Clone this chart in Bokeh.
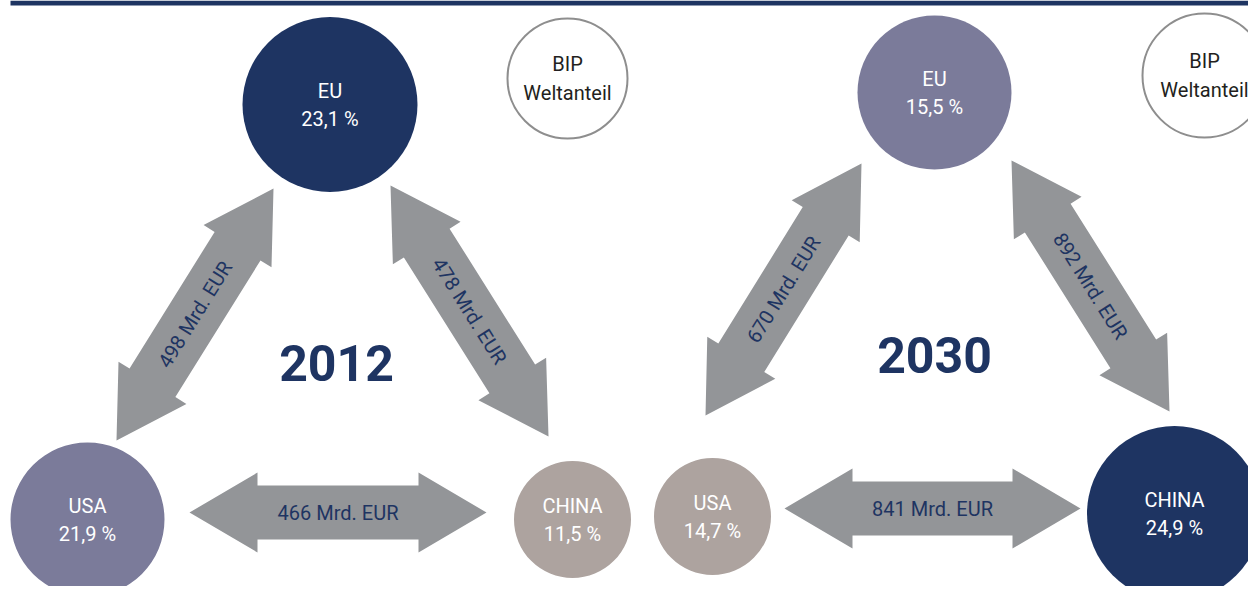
import math
from bokeh.plotting import figure
from bokeh.models import Range1d
from bokeh.embed import file_html
from bokeh.resources import INLINE
from bokeh.core.properties import value

# ---------------- data ----------------
years = ["2012", "2030"]
regions = ["EU", "USA", "CHINA"]
gdp_share_2012 = [23.1, 21.9, 11.5]
gdp_share_2030 = [15.5, 14.7, 24.9]
trade_pairs = [("EU", "USA"), ("EU", "CHINA"), ("USA", "CHINA")]
trade_2012 = [498, 478, 466]
trade_2030 = [670, 892, 841]
trade_unit = "Mrd. EUR"
legend_lines = ["BIP", "Weltanteil"]

shares = {"2012": gdp_share_2012, "2030": gdp_share_2030}
trades = {"2012": trade_2012, "2030": trade_2030}

# ---------------- layout / style ----------------
W, H = 1248, 586
NAVY = "#1e3462"
MID = "#7b7b9a"
LIGHT = "#ada39f"
ARROW = "#939598"
FONT = value("Roboto")
rank_colors = [NAVY, MID, LIGHT]
rank_radius = [87.5, 77, 58.5]


def Y(ys):
    # reference pixel row -> data y (y up)
    return H - ys


layout = {
    "2012": {
        "pos": {"EU": (329.5, 104), "USA": (87, 519), "CHINA": (572, 519)},
        "bip": (567, 78, 60),
        "year": (336, 362),
        "tips": {
            ("EU", "USA"): ((273, 188), (116, 440)),
            ("EU", "CHINA"): ((390, 185), (548, 436)),
            ("USA", "CHINA"): ((189, 512), (486, 512)),
        },
    },
    "2030": {
        "pos": {"EU": (934, 92), "USA": (712, 516), "CHINA": (1174, 513)},
        "bip": (1204, 75, 62),
        "year": (934, 354),
        "tips": {
            ("EU", "USA"): ((861, 163), (705, 415)),
            ("EU", "CHINA"): ((1011, 160), (1169, 411)),
            ("USA", "CHINA"): ((784, 508), (1080, 508)),
        },
    },
}


def fmt_share(v):
    return f"{v:.1f}".replace(".", ",") + " %"


def arrow_poly(a, b, h=68, hw=40, sw=27):
    ax, ay = a
    bx, by = b
    dx, dy = bx - ax, by - ay
    L = math.hypot(dx, dy)
    ux, uy = dx / L, dy / L
    nx, ny = -uy, ux
    pts = [
        (ax, ay),
        (ax + ux * h + nx * hw, ay + uy * h + ny * hw),
        (ax + ux * h + nx * sw, ay + uy * h + ny * sw),
        (bx - ux * h + nx * sw, by - uy * h + ny * sw),
        (bx - ux * h + nx * hw, by - uy * h + ny * hw),
        (bx, by),
        (bx - ux * h - nx * hw, by - uy * h - ny * hw),
        (bx - ux * h - nx * sw, by - uy * h - ny * sw),
        (ax + ux * h - nx * sw, ay + uy * h - ny * sw),
        (ax + ux * h - nx * hw, ay + uy * h - ny * hw),
    ]
    return [q[0] for q in pts], [q[1] for q in pts]


p = figure(width=W, height=H, x_range=Range1d(0, W), y_range=Range1d(0, H),
           output_backend="svg", toolbar_location=None,
           x_axis_type=None, y_axis_type=None, min_border=0)
p.outline_line_color = None
p.background_fill_color = "white"
p.border_fill_color = "white"

# top rule
p.quad(left=[10], right=[W], top=[Y(0)], bottom=[Y(5)], fill_color=NAVY, line_color=None)

# arrows
axs, ays = [], []
lab_x, lab_y, lab_t, lab_a = [], [], [], []
for yr in years:
    for pair, val in zip(trade_pairs, trades[yr]):
        (sa, sb) = layout[yr]["tips"][pair]
        a = (sa[0], Y(sa[1]))
        b = (sb[0], Y(sb[1]))
        xs, ys = arrow_poly(a, b)
        axs.append(xs)
        ays.append(ys)
        dx, dy = b[0] - a[0], b[1] - a[1]
        if dx < 0 or (dx == 0 and dy < 0):
            dx, dy = -dx, -dy
        ang = math.atan2(dy, dx)
        lab_x.append((a[0] + b[0]) / 2)
        lab_y.append((a[1] + b[1]) / 2)
        lab_t.append(f"{val} {trade_unit}")
        lab_a.append(ang)

p.patches(xs=axs, ys=ays, fill_color=ARROW, line_color=None)
p.text(x=lab_x, y=lab_y, text=lab_t, angle=lab_a, text_color=NAVY,
       text_font=FONT, text_font_size="20px", text_align="center",
       text_baseline="middle")

# region circles
cx, cy, cr, cc = [], [], [], []
t1x, t1y, t1t, t2y, t2t = [], [], [], [], []
for yr in years:
    vals = shares[yr]
    order = sorted(range(len(vals)), key=lambda i: -vals[i])
    for rank, i in enumerate(order):
        sx, sy = layout[yr]["pos"][regions[i]]
        cx.append(sx)
        cy.append(Y(sy))
        cr.append(rank_radius[rank])
        cc.append(rank_colors[rank])
        t1x.append(sx)
        t1y.append(Y(sy - 14))
        t1t.append(regions[i])
        t2y.append(Y(sy + 14))
        t2t.append(fmt_share(vals[i]))

p.circle(x=cx, y=cy, radius=cr, fill_color=cc, line_color=None)
p.text(x=t1x, y=t1y, text=t1t, text_color="white", text_font=FONT,
       text_font_size="20px", text_align="center", text_baseline="middle")
p.text(x=t1x, y=t2y, text=t2t, text_color="white", text_font=FONT,
       text_font_size="20px", text_align="center", text_baseline="middle")

# BIP legend circles
bx_, by_, br_ = [], [], []
for yr in years:
    bx, byy, br = layout[yr]["bip"]
    bx_.append(bx)
    by_.append(Y(byy))
    br_.append(br)
p.circle(x=bx_, y=by_, radius=br_, fill_color="white", line_color="#8e8e8e", line_width=2)
p.text(x=bx_, y=[Y(layout[yr]["bip"][1] - 15) for yr in years], text=[legend_lines[0]] * 2,
       text_color="#231f20", text_font=FONT, text_font_size="20px",
       text_align="center", text_baseline="middle")
p.text(x=bx_, y=[Y(layout[yr]["bip"][1] + 14) for yr in years], text=[legend_lines[1]] * 2,
       text_color="#231f20", text_font=FONT, text_font_size="20px",
       text_align="center", text_baseline="middle")

# years
p.text(x=[layout[yr]["year"][0] for yr in years], y=[Y(layout[yr]["year"][1]) for yr in years],
       text=years, text_color=NAVY, text_font=FONT, text_font_style="bold",
       text_font_size="50px", text_align="center", text_baseline="middle")

open("out.html", "w").write(file_html(p, INLINE))
